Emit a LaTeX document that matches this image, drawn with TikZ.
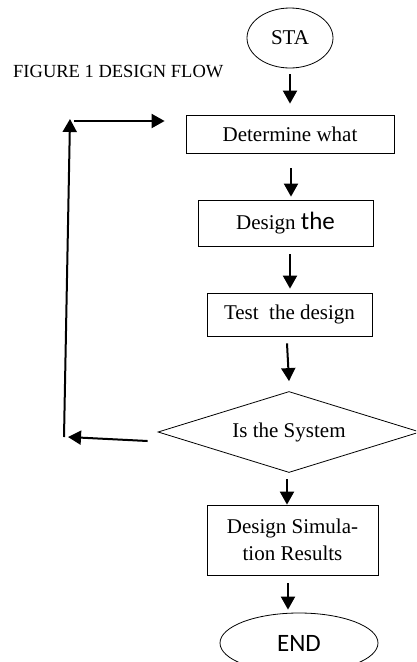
\documentclass[tikz,border=0pt]{standalone}
\usepackage{fontspec}
\setmainfont{Liberation Serif}
\newfontfamily\carlito{Carlito}
\usetikzlibrary{shapes.geometric,arrows.meta}

\tikzset{
  stepbox/.style={draw, line width=0.8pt, rectangle, inner sep=0pt, align=center,
                  font=\fontsize{21}{27}\selectfont},
  terminal/.style={draw, line width=0.8pt, ellipse, inner sep=0pt},
  decision/.style={draw, line width=0.8pt, diamond, inner sep=0pt, shape aspect=3.23,
                   font=\fontsize{21}{25}\selectfont},
  flow/.style={line width=2pt, -{Triangle[length=13pt,width=14pt]}},
}

\begin{document}
\begin{tikzpicture}[x=1pt,y=-1pt]
  \clip (0,0) rectangle (416,662);
  \fill[white] (0,0) rectangle (416,662);

  % caption
  \node[anchor=base west, inner sep=0pt, font=\fontsize{18.5}{22}\selectfont]
    (caption) at (13,77) {FIGURE 1 DESIGN FLOW};

  % flow chart
  \node[terminal, minimum width=86pt, minimum height=60pt,
        font=\fontsize{21}{25}\selectfont] (start) at (290,38) {STA};
  \node[stepbox, minimum width=208pt, minimum height=38pt] (what) at (290,134) {Determine what};
  \node[stepbox, minimum width=175pt, minimum height=46pt] (design) at (285.5,223)
    {Design {\carlito\fontsize{25}{27}\selectfont the}};
  \node[stepbox, minimum width=165pt, minimum height=43pt] (test) at (289.5,314.5) {Test\ \ the design};
  \node[decision, minimum width=262pt, minimum height=81pt] (check) at (289,432) {Is the System};
  \node[stepbox, minimum width=171pt, minimum height=70pt] (results) at (292.5,540)
    {Design Simula-\\tion Results};
  \node[terminal, minimum width=158pt, minimum height=60pt,
        font=\carlito\fontsize{25}{27}\selectfont] (finish) at (299,643) {END};

  % forward arrows
  \draw[flow, shorten <=6pt, shorten >=11pt] (start.south) -- (what.north);
  \draw[flow] ([xshift=1pt,yshift=-15pt]what.south) -- ([xshift=5.5pt,yshift=3pt]design.north);
  \draw[flow] ([xshift=4.5pt,yshift=-8pt]design.south) -- ([xshift=0.5pt,yshift=4pt]test.north);
  \draw[flow] ([xshift=-2.5pt,yshift=-7pt]test.south) -- ([yshift=10pt]check.north);
  \draw[flow] ([xshift=-2pt,yshift=-6.5pt]check.south) -- ([xshift=-5.5pt]results.north);
  \draw[flow] ([xshift=-4.5pt,yshift=-8pt]results.south) -- ([xshift=-11pt,yshift=3pt]finish.north);

  % feedback loop
  \coordinate (loopin)  at (68,437);
  \coordinate (loopbot) at (64,437);
  \coordinate (looptop) at (70,119);
  \coordinate (loopout) at (74,121);
  \draw[flow] ([xshift=-10pt,yshift=-9pt]check.west) -- (loopin);
  \draw[flow] (loopbot) -- (looptop);
  \draw[flow] (loopout) -- ([xshift=-21pt,yshift=13pt]what.west);
\end{tikzpicture}
\end{document}
